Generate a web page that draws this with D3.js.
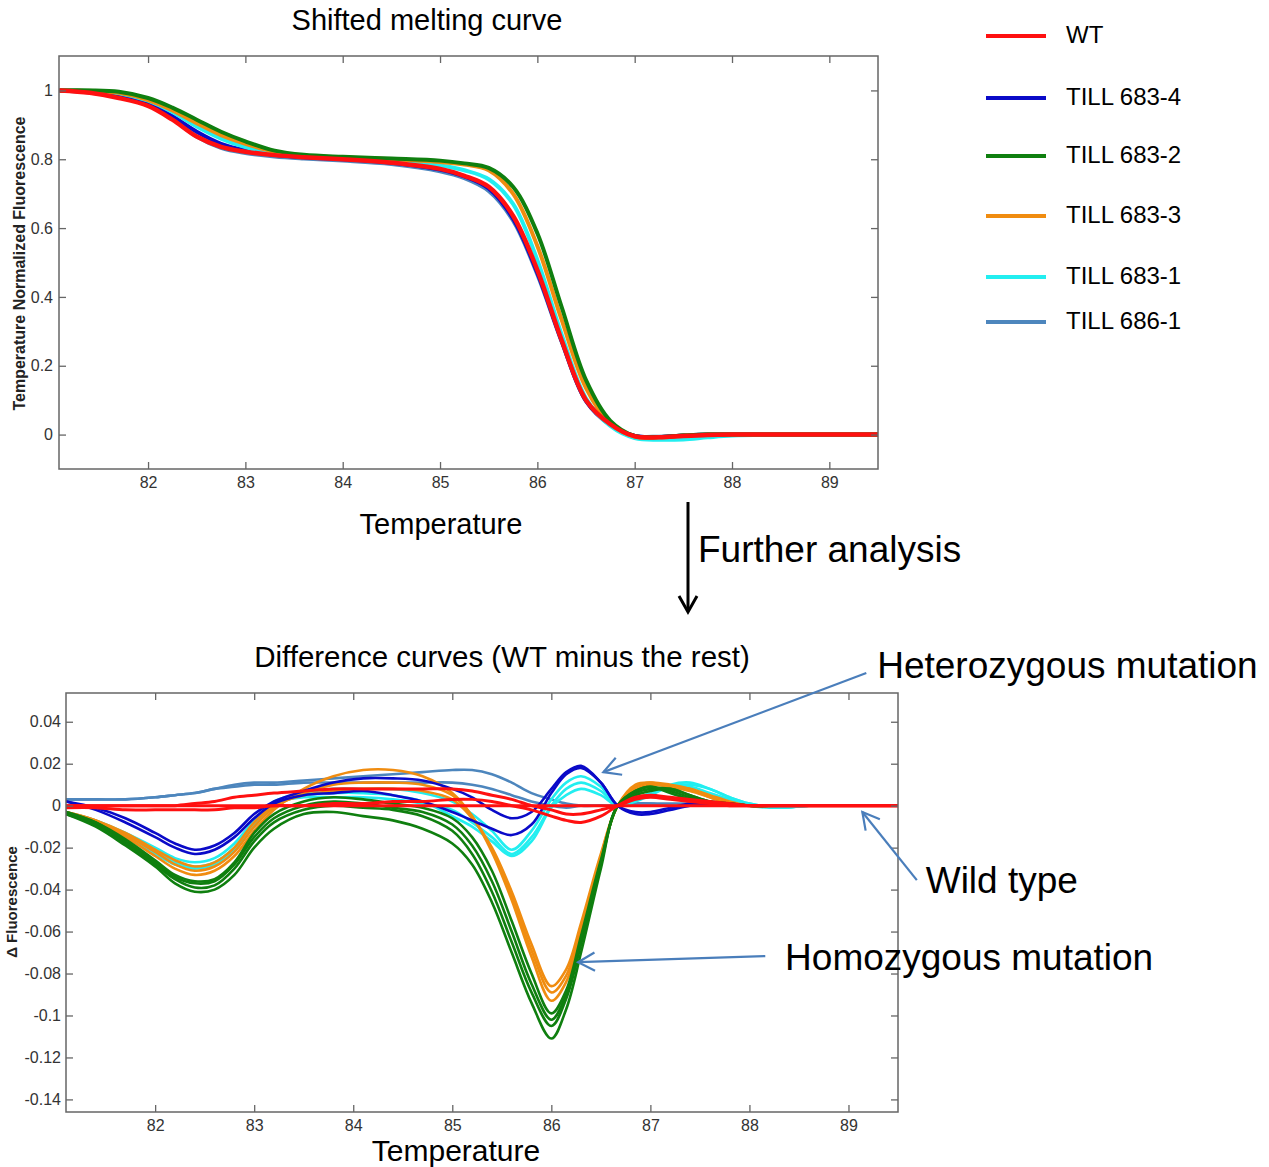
<!DOCTYPE html>
<html>
<head>
<meta charset="utf-8">
<script src="https://cdn.jsdelivr.net/npm/d3@7"></script>
<style>
  html, body { margin: 0; padding: 0; background: #fff; }
  svg { display: block; font-family: "Liberation Sans", Arial, sans-serif; }
</style>
</head>
<body>
<svg id="chart" width="1269" height="1167"></svg>
<script>
// ---------------- DATA ----------------
const genotypes = ["WT", "TILL 683-4", "TILL 683-2", "TILL 683-3", "TILL 683-1", "TILL 686-1"];
const genotypeColors = ["#ff1010", "#0a0ac8", "#0f7f0f", "#f08c10", "#22eef0", "#4d86bd"];

// Top chart: shifted melting curves
const meltTemps = [81.1, 81.4, 81.7, 82.0, 82.25, 82.5, 82.75, 83.0, 83.3, 83.6, 84.0, 84.5, 85.0, 85.25, 85.5, 85.75, 86.0, 86.25, 86.5, 86.75, 87.0, 87.25, 87.5, 87.75, 88.0, 88.5, 89.0, 89.5];
const meltWT     = [1.000, 0.993, 0.978, 0.955, 0.915, 0.866, 0.836, 0.822, 0.812, 0.806, 0.800, 0.790, 0.772, 0.752, 0.720, 0.636, 0.478, 0.274, 0.100, 0.030, -0.005, -0.008, -0.004, -0.001, 0, 0, 0, 0];
const melt683_4  = [1.000, 0.996, 0.985, 0.962, 0.925, 0.880, 0.845, 0.826, 0.813, 0.806, 0.800, 0.790, 0.770, 0.750, 0.715, 0.628, 0.470, 0.272, 0.098, 0.028, -0.004, -0.007, -0.003, 0, 0, 0, 0, 0];
const melt683_2  = [1.000, 1.000, 0.996, 0.978, 0.950, 0.915, 0.880, 0.852, 0.825, 0.813, 0.807, 0.802, 0.796, 0.788, 0.775, 0.720, 0.585, 0.370, 0.158, 0.040, -0.004, -0.007, -0.003, 0, 0, 0, 0, 0];
const melt683_3  = [1.000, 0.999, 0.993, 0.972, 0.942, 0.905, 0.870, 0.845, 0.822, 0.811, 0.805, 0.800, 0.792, 0.785, 0.768, 0.700, 0.548, 0.333, 0.135, 0.032, -0.006, -0.008, -0.003, 0, 0, 0, 0, 0];
const melt683_1  = [1.000, 0.999, 0.992, 0.970, 0.937, 0.895, 0.860, 0.835, 0.815, 0.808, 0.802, 0.795, 0.782, 0.768, 0.742, 0.670, 0.507, 0.290, 0.105, 0.025, -0.010, -0.015, -0.014, -0.008, -0.003, 0, 0, 0];
const melt686_1  = [1.000, 0.994, 0.980, 0.957, 0.918, 0.866, 0.833, 0.818, 0.808, 0.802, 0.796, 0.786, 0.765, 0.745, 0.708, 0.622, 0.465, 0.270, 0.097, 0.028, -0.004, -0.006, -0.003, 0, 0, 0, 0, 0];

const meltXTicks = [82, 83, 84, 85, 86, 87, 88, 89];
const meltYTicks = [0, 0.2, 0.4, 0.6, 0.8, 1];
const meltYLabels = ["0", "0.2", "0.4", "0.6", "0.8", "1"];

// Bottom chart: difference curves (replicates per genotype)
const diffTemps = [81.1, 81.4, 81.7, 82.0, 82.2, 82.4, 82.6, 82.8, 83.0, 83.2, 83.5, 83.8, 84.1, 84.4, 84.7, 85.0, 85.2, 85.4, 85.6, 85.8, 86.0, 86.15, 86.3, 86.5, 86.67, 86.85, 87.0, 87.2, 87.4, 87.6, 87.8, 88.0, 88.3, 88.6, 89.0, 89.5];

const diff686_1 = [
  [0.003, 0.003, 0.003, 0.004, 0.005, 0.006, 0.008, 0.010, 0.011, 0.011, 0.012, 0.013, 0.014, 0.015, 0.016, 0.017, 0.017, 0.015, 0.011, 0.006, 0.003, 0.001, 0.000, 0.000, 0.000, 0.001, 0.001, 0.001, 0.001, 0.000, 0, 0, 0, 0, 0, 0],
  [0.003, 0.003, 0.003, 0.004, 0.005, 0.006, 0.008, 0.009, 0.010, 0.010, 0.011, 0.011, 0.011, 0.011, 0.011, 0.011, 0.010, 0.008, 0.005, 0.002, 0.000, -0.001, 0.000, 0.000, 0.000, 0.001, 0.001, 0.000, 0.000, 0, 0, 0, 0, 0, 0, 0]
];
const diff683_1 = [
  [-0.003, -0.008, -0.015, -0.023, -0.028, -0.030, -0.028, -0.021, -0.010, 0.000, 0.005, 0.006, 0.006, 0.005, 0.002, -0.005, -0.010, -0.017, -0.024, -0.017, -0.001, 0.005, 0.008, 0.005, 0.000, 0.003, 0.006, 0.010, 0.011, 0.008, 0.004, 0.001, -0.001, 0, 0, 0],
  [-0.003, -0.008, -0.014, -0.022, -0.027, -0.029, -0.027, -0.020, -0.009, 0.001, 0.004, 0.004, 0.004, 0.003, 0.001, -0.002, -0.008, -0.015, -0.023, -0.015, 0.000, 0.008, 0.011, 0.007, 0.000, 0.002, 0.005, 0.009, 0.010, 0.008, 0.004, 0.001, -0.001, 0, 0, 0],
  [-0.003, -0.007, -0.013, -0.020, -0.025, -0.027, -0.025, -0.018, -0.007, 0.002, 0.006, 0.008, 0.008, 0.008, 0.006, 0.002, -0.004, -0.012, -0.021, -0.012, 0.003, 0.011, 0.014, 0.009, 0.000, 0.003, 0.006, 0.009, 0.009, 0.006, 0.003, 0.000, -0.001, 0, 0, 0]
];
const diff683_3 = [
  [-0.003, -0.008, -0.015, -0.024, -0.030, -0.033, -0.031, -0.024, -0.012, -0.002, 0.008, 0.014, 0.017, 0.017, 0.014, 0.006, -0.005, -0.022, -0.045, -0.072, -0.093, -0.084, -0.060, -0.025, 0.000, 0.009, 0.011, 0.010, 0.008, 0.004, 0.001, 0, 0, 0, 0, 0],
  [-0.003, -0.007, -0.014, -0.022, -0.028, -0.031, -0.029, -0.022, -0.010, -0.001, 0.006, 0.010, 0.011, 0.011, 0.010, 0.005, -0.005, -0.021, -0.043, -0.069, -0.089, -0.081, -0.058, -0.024, 0.000, 0.010, 0.011, 0.009, 0.007, 0.004, 0.001, 0, 0, 0, 0, 0],
  [-0.003, -0.007, -0.013, -0.021, -0.026, -0.029, -0.027, -0.020, -0.008, 0.000, 0.005, 0.007, 0.008, 0.008, 0.007, 0.003, -0.006, -0.020, -0.041, -0.066, -0.086, -0.078, -0.056, -0.023, 0.000, 0.008, 0.010, 0.009, 0.008, 0.005, 0.002, 0, 0, 0, 0, 0]
];
const diff683_2 = [
  [-0.004, -0.010, -0.019, -0.029, -0.037, -0.041, -0.040, -0.033, -0.020, -0.011, -0.004, -0.003, -0.005, -0.007, -0.011, -0.018, -0.028, -0.046, -0.070, -0.094, -0.111, -0.097, -0.070, -0.030, 0.000, 0.005, 0.007, 0.008, 0.005, 0.002, 0.001, 0, 0, 0, 0, 0],
  [-0.004, -0.009, -0.018, -0.028, -0.035, -0.039, -0.038, -0.030, -0.017, -0.008, -0.002, 0.000, -0.001, -0.002, -0.005, -0.012, -0.023, -0.041, -0.065, -0.089, -0.105, -0.092, -0.066, -0.028, 0.000, 0.006, 0.008, 0.008, 0.005, 0.002, 0.001, 0, 0, 0, 0, 0],
  [-0.003, -0.008, -0.017, -0.027, -0.034, -0.037, -0.036, -0.028, -0.015, -0.006, 0.000, 0.002, 0.001, -0.001, -0.003, -0.009, -0.019, -0.036, -0.060, -0.085, -0.102, -0.090, -0.064, -0.027, 0.000, 0.007, 0.009, 0.007, 0.004, 0.002, 0.001, 0, 0, 0, 0, 0],
  [-0.003, -0.008, -0.016, -0.026, -0.033, -0.036, -0.035, -0.027, -0.013, -0.004, 0.002, 0.004, 0.003, 0.001, -0.001, -0.006, -0.015, -0.031, -0.055, -0.080, -0.099, -0.088, -0.062, -0.026, 0.000, 0.007, 0.009, 0.006, 0.003, 0.001, 0.000, 0, 0, 0, 0, 0]
];
const diff683_4 = [
  [0.002, -0.001, -0.006, -0.013, -0.018, -0.021, -0.019, -0.013, -0.004, 0.002, 0.007, 0.011, 0.013, 0.013, 0.012, 0.008, 0.004, -0.002, -0.006, -0.003, 0.008, 0.016, 0.019, 0.011, 0.000, -0.004, -0.004, -0.002, 0.000, 0.001, 0.000, 0, 0, 0, 0, 0],
  [0.002, -0.002, -0.008, -0.015, -0.020, -0.023, -0.021, -0.015, -0.006, 0.001, 0.005, 0.006, 0.007, 0.005, 0.002, -0.003, -0.007, -0.011, -0.014, -0.009, 0.006, 0.015, 0.018, 0.011, 0.000, -0.003, -0.003, -0.001, 0.001, 0.001, 0.000, 0, 0, 0, 0, 0]
];
const diffWT = [
  [0, 0, 0, 0, 0, 0, 0, 0, 0, 0, 0, 0, 0, 0, 0, 0, 0, 0, 0, 0, 0, 0, 0, 0, 0, 0, 0, 0, 0, 0, 0, 0, 0, 0, 0, 0],
  [0.000, 0.000, 0.000, 0.000, 0.000, 0.001, 0.002, 0.004, 0.005, 0.006, 0.007, 0.008, 0.008, 0.008, 0.008, 0.008, 0.007, 0.005, 0.003, 0.000, -0.002, -0.004, -0.004, -0.002, 0.000, 0.003, 0.004, 0.003, 0.002, 0.001, 0, 0, 0, 0, 0, 0],
  [-0.001, -0.001, -0.002, -0.002, -0.002, -0.002, -0.002, -0.001, -0.001, 0.000, 0.000, 0.001, 0.001, 0.002, 0.002, 0.003, 0.003, 0.002, 0.000, -0.002, -0.005, -0.007, -0.008, -0.005, 0.000, 0.004, 0.005, 0.004, 0.003, 0.002, 0.001, 0, 0, 0, 0, 0]
];

const diffXTicks = [82, 83, 84, 85, 86, 87, 88, 89];
const diffYTicks = [-0.14, -0.12, -0.1, -0.08, -0.06, -0.04, -0.02, 0, 0.02, 0.04];
const diffYLabels = ["-0.14", "-0.12", "-0.1", "-0.08", "-0.06", "-0.04", "-0.02", "0", "0.02", "0.04"];

// Annotations (data coordinates of the difference chart)
const annotations = [
  { text: "Heterozygous mutation", from: [89.18, 0.0632], to: [86.525, 0.016], label: [89.29, 0.067] },
  { text: "Wild type",             from: [89.69, -0.0355], to: [89.14, -0.003], label: [89.78, -0.0355] },
  { text: "Homozygous mutation",   from: [88.16, -0.0717], to: [86.27, -0.0746], label: [88.36, -0.0722] }
];

// ---------------- DRAW ----------------
const svg = d3.select("#chart");
const FONT = '"Liberation Sans", Arial, sans-serif';
const AXIS_COLOR = "#666";
const TICK_TEXT = "#333";

function frameAxes(g, x, y, w, h, xTicks, yTicks, yLabels, opt) {
  const tl = 7;
  const xb = g.append("g").attr("transform", `translate(0,${h})`)
    .call(d3.axisBottom(x).tickValues(xTicks).tickFormat(d3.format("d")).tickSizeInner(-tl).tickSizeOuter(0).tickPadding(opt.xPad));
  const yl = g.append("g")
    .call(d3.axisLeft(y).tickValues(yTicks).tickFormat((d, i) => yLabels[i]).tickSizeInner(-tl).tickSizeOuter(0).tickPadding(opt.yPad));
  const xt = g.append("g").call(d3.axisTop(x).tickValues(xTicks).tickFormat("").tickSizeInner(-tl).tickSizeOuter(0));
  const yr = g.append("g").attr("transform", `translate(${w},0)`)
    .call(d3.axisRight(y).tickValues(yTicks).tickFormat("").tickSizeInner(-tl).tickSizeOuter(0));
  [xb, yl, xt, yr].forEach(a => {
    a.select(".domain").remove();
    a.selectAll("line").attr("stroke", AXIS_COLOR).attr("stroke-width", 1.3);
    a.selectAll("text").attr("fill", TICK_TEXT).style("font-family", FONT).style("font-size", opt.fontSize + "px");
  });
  g.append("rect").attr("x", 0).attr("y", 0).attr("width", w).attr("height", h)
    .attr("fill", "none").attr("stroke", AXIS_COLOR).attr("stroke-width", 1.5);
}

const curveType = d3.curveCatmullRom.alpha(0.5);

// ---- Top chart ----
const T = { left: 59, top: 56, width: 819, height: 413 };
const gTop = svg.append("g").attr("transform", `translate(${T.left},${T.top})`);
const xTop = d3.scaleLinear().domain([81.085, 89.5]).range([0, T.width]);
const yTop = d3.scaleLinear().domain([-0.1, 1.1]).range([T.height, 0]);

const meltSeries = [
  { g: 5, v: melt686_1 }, { g: 1, v: melt683_4 }, { g: 4, v: melt683_1 },
  { g: 3, v: melt683_3 }, { g: 2, v: melt683_2 }, { g: 0, v: meltWT }
];
const lineTop = d3.line().x((d, i) => xTop(meltTemps[i])).y(d => yTop(d)).curve(curveType);
gTop.append("defs").append("clipPath").attr("id", "clipTop")
  .append("rect").attr("width", T.width).attr("height", T.height);
gTop.append("g").attr("clip-path", "url(#clipTop)").selectAll("path").data(meltSeries).join("path")
  .attr("d", d => lineTop(d.v)).attr("fill", "none")
  .attr("stroke", d => genotypeColors[d.g]).attr("stroke-width", d => d.g === 0 ? 4.5 : 4)
  .attr("stroke-linejoin", "round").attr("stroke-linecap", "round");

frameAxes(gTop, xTop, yTop, T.width, T.height, meltXTicks, meltYTicks, meltYLabels, { xPad: 8, yPad: 6, fontSize: 16 });

gTop.append("text").attr("transform", `translate(${-38},${T.height / 2 + 1}) rotate(-90)`)
  .attr("text-anchor", "middle").attr("dominant-baseline", "middle")
  .style("font-family", FONT).style("font-size", "16px").style("font-weight", "bold").attr("fill", "#222")
  .text("Temperature Normalized Fluorescence");

svg.append("text").attr("x", 427).attr("y", 30).attr("text-anchor", "middle")
  .style("font-family", FONT).style("font-size", "29px").attr("fill", "#000").text("Shifted melting curve");
svg.append("text").attr("x", 441).attr("y", 534).attr("text-anchor", "middle")
  .style("font-family", FONT).style("font-size", "29px").attr("fill", "#000").text("Temperature");

// ---- Legend ----
const legendY = [36, 98, 156, 216, 277, 322];
const lg = svg.append("g");
genotypes.forEach((name, i) => {
  lg.append("line").attr("x1", 986).attr("x2", 1046).attr("y1", legendY[i]).attr("y2", legendY[i])
    .attr("stroke", genotypeColors[i]).attr("stroke-width", 4);
  lg.append("text").attr("x", 1066).attr("y", legendY[i] - 1).attr("dy", "0.35em")
    .style("font-family", FONT).style("font-size", "24px").attr("fill", "#000").text(name);
});

// ---- Further analysis arrow ----
svg.append("line").attr("x1", 688).attr("x2", 688).attr("y1", 502).attr("y2", 611)
  .attr("stroke", "#000").attr("stroke-width", 3);
svg.append("path").attr("d", "M679,596 L688,612 L697,596").attr("fill", "none")
  .attr("stroke", "#000").attr("stroke-width", 3).attr("stroke-linejoin", "miter");
svg.append("text").attr("x", 698).attr("y", 562)
  .style("font-family", FONT).style("font-size", "37px").attr("fill", "#000").text("Further analysis");

// ---- Bottom chart ----
const B = { left: 66, top: 693, width: 832, height: 419 };
const gBot = svg.append("g").attr("transform", `translate(${B.left},${B.top})`);
const xBot = d3.scaleLinear().domain([81.1, 89.5]).range([0, B.width]);
const yBot = d3.scaleLinear().domain([-0.146, 0.0537]).range([B.height, 0]);

const diffSeries = [];
[[5, diff686_1], [4, diff683_1], [3, diff683_3], [2, diff683_2], [1, diff683_4], [0, diffWT]].forEach(([g, reps]) => {
  reps.forEach(v => diffSeries.push({ g, v }));
});
const lineBot = d3.line().x((d, i) => xBot(diffTemps[i])).y(d => yBot(d)).curve(curveType);
gBot.append("defs").append("clipPath").attr("id", "clipBot")
  .append("rect").attr("width", B.width).attr("height", B.height);
gBot.append("g").attr("clip-path", "url(#clipBot)").selectAll("path").data(diffSeries).join("path")
  .attr("d", d => lineBot(d.v)).attr("fill", "none")
  .attr("stroke", d => genotypeColors[d.g]).attr("stroke-width", d => (d.g === 0 ? 3 : 2.6))
  .attr("stroke-linejoin", "round").attr("stroke-linecap", "round");

frameAxes(gBot, xBot, yBot, B.width, B.height, diffXTicks, diffYTicks, diffYLabels, { xPad: 8, yPad: 5, fontSize: 16 });

gBot.append("text").attr("transform", `translate(${-53},${209}) rotate(-90)`)
  .attr("text-anchor", "middle").attr("dominant-baseline", "middle")
  .style("font-family", FONT).style("font-size", "15px").style("font-weight", "bold").attr("fill", "#222")
  .text("Δ Fluorescence");

svg.append("text").attr("x", 502).attr("y", 667).attr("text-anchor", "middle")
  .style("font-family", FONT).style("font-size", "29.5px").attr("fill", "#000").text("Difference curves (WT minus the rest)");
svg.append("text").attr("x", 456).attr("y", 1161).attr("text-anchor", "middle")
  .style("font-family", FONT).style("font-size", "30px").attr("fill", "#000").text("Temperature");

// ---- Annotations ----
const ANN = "#4a7ebb";
const ga = svg.append("g").attr("transform", `translate(${B.left},${B.top})`);
annotations.forEach(a => {
  const x1 = xBot(a.from[0]), y1 = yBot(a.from[1]);
  const x2 = xBot(a.to[0]), y2 = yBot(a.to[1]);
  ga.append("line").attr("x1", x1).attr("y1", y1).attr("x2", x2).attr("y2", y2)
    .attr("stroke", ANN).attr("stroke-width", 2.2);
  const ang = Math.atan2(y1 - y2, x1 - x2);
  const L = 19, spread = 0.5;
  const p1 = [x2 + L * Math.cos(ang + spread), y2 + L * Math.sin(ang + spread)];
  const p2 = [x2 + L * Math.cos(ang - spread), y2 + L * Math.sin(ang - spread)];
  ga.append("path").attr("d", `M${p1[0]},${p1[1]} L${x2},${y2} L${p2[0]},${p2[1]}`)
    .attr("fill", "none").attr("stroke", ANN).attr("stroke-width", 2.2);
  ga.append("text").attr("x", xBot(a.label[0])).attr("y", yBot(a.label[1])).attr("dy", "0.35em")
    .style("font-family", FONT).style("font-size", "37px").attr("fill", "#000").text(a.text);
});
</script>
</body>
</html>
